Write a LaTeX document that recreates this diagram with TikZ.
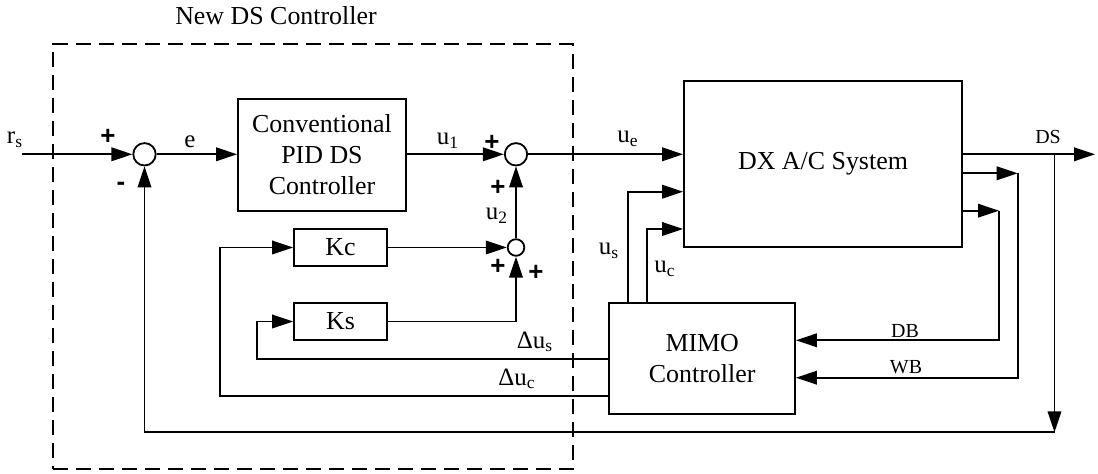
\documentclass[tikz,border=0pt]{standalone}
\usepackage{fontspec}
\setmainfont{Liberation Serif}
\newfontfamily\signfont{Liberation Sans}
\usetikzlibrary{arrows.meta}
\begin{document}
\begin{tikzpicture}[x=0.5bp,y=-0.5bp,
        block/.style={draw,line width=0.9bp,minimum width=46.5bp,minimum height=18.5bp,inner sep=0pt,align=center,font=\fontsize{13}{15.5}\selectfont},
        sumnode/.style={draw,circle,line width=0.9bp,inner sep=0pt,minimum size=11.2bp},
        sig/.style={line width=0.9bp,-{Triangle[length=10.5bp,width=6.8bp]}},
        lbl/.style={inner sep=0pt,font=\fontsize{12.5}{15}\selectfont},
        sml/.style={inner sep=0pt,font=\fontsize{10}{12}\selectfont},
        sgn/.style={inner sep=0pt,font=\signfont\bfseries\fontsize{13}{15}\selectfont}]
        \useasboundingbox (0,0) rectangle (1098,474);

        % Controlador nuevo (caja punteada)
        \node[draw,dash pattern=on 7.5bp off 4bp,line width=0.8bp,minimum width=259.7bp,minimum height=212.5bp] (newds) at (313,256.8) {};
        \node[inner sep=0pt,font=\fontsize{13}{15}\selectfont] (title) at (276,16) {New DS Controller};

        % Bloques
        \node[block,minimum width=84bp,minimum height=56bp] (pid) at (322,155) {Conventional\\PID DS\\Controller};
        \node[block] (kc) at (340.5,247.5) {Kc};
        \node[block] (ks) at (340.5,321.5) {Ks};
        \node[block,minimum width=139bp,minimum height=83.3bp] (dx) at (823,164) {DX A/C System};
        \node[block,minimum width=92.85bp,minimum height=55.35bp] (mimo) at (702.2,358.7) {MIMO\\Controller};

        % Sumadores
        \node[sumnode] (sum1) at (144.5,154.3) {};
        \node[sumnode] (sum2) at (516,154.3) {};
        \node[sumnode,minimum size=8.3bp] (sum3) at (516,247.5) {};

        % Puntos de quiebre
        \coordinate (rsin) at (21.7,154.3);
        \coordinate (dsout) at (1095,154.3);
        \coordinate (dsbr) at (1054.5,154.3);
        \coordinate (fbr) at (1054.5,432.3);
        \coordinate (wbc) at (1017.7,173.3);
        \coordinate (dbc) at (999,210.7);
        \coordinate (wbl) at (900,377.7);
        \coordinate (dbl) at (900,340.3);
        \coordinate (usc) at (628.3,191.7);
        \coordinate (ucc) at (646.7,229);
        \coordinate (dusc) at (257,359);
        \coordinate (ducc) at (220,395.7);

        % Lazo principal
        \draw[sig] (rsin) -- (sum1);
        \draw[sig] (sum1) -- (pid.west |- sum1);
        \draw[sig] (pid.east |- sum2) -- (sum2);
        \draw[sig] (sum2) -- (dx.west |- sum2);
        \draw[sig] (dx.east |- dsout) -- (dsout);
        \draw[sig] (dsbr) -- (fbr);
        \draw[sig] (fbr) -| (sum1);

        % Salidas DB y WB hacia el MIMO
        \draw[sig] (dx.east |- wbc) -- (wbc);
        \draw[sig] (wbc) |- (mimo.east |- wbl);
        \draw[sig] (dx.east |- dbc) -- (dbc);
        \draw[sig] (dbc) |- (mimo.east |- dbl);

        % Salidas del MIMO
        \draw[sig] (mimo.north -| usc) |- (dx.west |- usc);
        \draw[sig] (mimo.north -| ucc) |- (dx.west |- ucc);
        \draw[sig] (mimo.west |- dusc) -- (dusc) |- (ks.west);
        \draw[sig] (mimo.west |- ducc) -- (ducc) |- (kc.west);
        \draw[sig] (kc) -- (sum3);
        \draw[sig] (ks) -| (sum3);
        \draw[sig] (sum3) -- (sum2);

        % Etiquetas de las senales
        \node[lbl] (rslbl) at (15,140) {r\textsubscript{s}};
        \node[lbl] (elbl) at (190,142) {e};
        \node[lbl] (u1lbl) at (448,141) {u\textsubscript{1}};
        \node[lbl] (u2lbl) at (497,216) {u\textsubscript{2}};
        \node[lbl] (uelbl) at (628,139) {u\textsubscript{e}};
        \node[lbl] (uslbl) at (609,251) {u\textsubscript{s}};
        \node[lbl] (uclbl) at (665,269) {u\textsubscript{c}};
        \node[lbl] (duslbl) at (535,342) {Δu\textsubscript{s}};
        \node[lbl] (duclbl) at (517,379) {Δu\textsubscript{c}};
        \node[sml] (dslbl) at (1048,137) {DS};
        \node[sml] (dblbl) at (905,331) {DB};
        \node[sml] (wblbl) at (906,367) {WB};

        % Signos de los sumadores
        \foreach \x/\y/\s [count=\i] in {108/137/+,121/186/-,492/143/+,498/188/+,498/267/+,536/273/+}
            \node[sgn] (sg\i) at (\x,\y) {\s};
\end{tikzpicture}
\end{document}
